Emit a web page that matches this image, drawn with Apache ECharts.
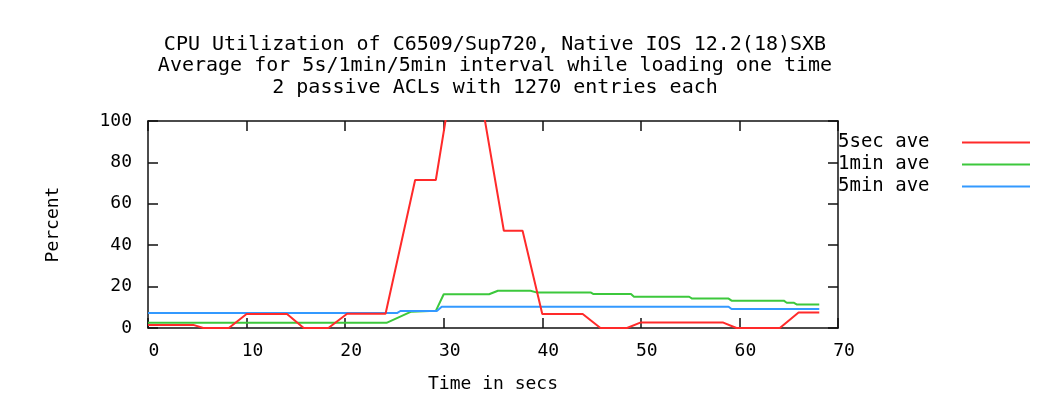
<!DOCTYPE html>
<html>
<head>
<meta charset="utf-8">
<script src="https://cdn.jsdelivr.net/npm/echarts@6/dist/echarts.min.js"></script>
<style>html,body{margin:0;padding:0;background:#fff;}#chart{width:1051px;height:414px;}</style>
</head>
<body>
<div id="chart"></div>
<script>
var titleLines = [
  'CPU Utilization of C6509/Sup720, Native IOS 12.2(18)SXB',
  'Average for 5s/1min/5min interval while loading one time',
  '2 passive ACLs with 1270 entries each'
];
var seriesNames = ['5sec ave', '1min ave', '5min ave'];
var xTicks = [0, 10, 20, 30, 40, 50, 60, 70];
var yTicks = [0, 20, 40, 60, 80, 100];

var sec5Time = [0, 4.6, 5.6, 8.2, 10, 14.1, 15.8, 18.3, 20.2, 24.1, 27.1, 29.2, 31, 33, 36.1, 38, 40, 44.1, 45.9, 48.6, 50, 58.3, 59.7, 64.1, 66, 68.1];
var sec5Pct  = [1.5, 1.5, 0, 0, 6.8, 6.8, 0, 0, 6.9, 6.9, 71.5, 71.5, 124, 133, 47, 47, 6.8, 6.8, 0, 0, 2.7, 2.7, 0, 0, 7.5, 7.5];

var min1Time = [0, 24.2, 26.7, 29.2, 30, 34.6, 35.5, 38.8, 39.4, 44.9, 45.2, 49.0, 49.3, 54.9, 55.2, 58.9, 59.2, 64.5, 64.8, 65.5, 65.8, 68.1];
var min1Pct  = [2.5, 2.5, 7.9, 8.3, 16.3, 16.3, 18.0, 18.0, 17.2, 17.2, 16.4, 16.4, 15.1, 15.1, 14.2, 14.2, 13.2, 13.2, 12.2, 12.2, 11.4, 11.4];

var min5Time = [0, 25.3, 25.6, 29.3, 29.8, 58.9, 59.2, 68.1];
var min5Pct  = [7.3, 7.3, 8.2, 8.2, 10.3, 10.3, 9.2, 9.2];

function zip(t, v) { return t.map(function (x, i) { return [x, v[i]]; }); }

var FONT = '"DejaVu Sans Mono", "Liberation Mono", monospace';
var colors = ['#ff2a2a', '#3cc83c', '#3399ff'];

var chart = echarts.init(document.getElementById('chart'), null, {renderer: 'canvas'});

var axisLineStyle = {color: '#111', width: 1.5};
var tickStyle = {show: true, inside: true, length: 10, lineStyle: {color: '#111', width: 1.5}};

chart.setOption({
  animation: false,
  backgroundColor: '#fff',
  title: {
    text: titleLines.join('\n'),
    left: 490,
    top: 29,
    textAlign: 'center',
    textStyle: {fontFamily: FONT, fontSize: 20, fontWeight: 'normal', color: '#000', lineHeight: 21.5}
  },
  legend: {
    orient: 'vertical',
    left: 833,
    top: 128,
    align: 'right',
    itemGap: 3,
    icon: 'rect',
    itemWidth: 68,
    itemHeight: 2,
    data: seriesNames,
    formatter: '{a|{name}}',
    textStyle: {
      fontFamily: FONT, fontSize: 19, color: '#000', lineHeight: 18.5,
      rich: {a: {fontFamily: FONT, fontSize: 19, color: '#000', width: 119, align: 'left', lineHeight: 18.5}}
    }
  },
  grid: {left: 148, right: 213, top: 121, bottom: 86, containLabel: false},
  xAxis: [{
    type: 'value', min: xTicks[0], max: xTicks[xTicks.length - 1], interval: 10,
    position: 'bottom',
    name: 'Time in secs', nameLocation: 'middle', nameGap: 47,
    nameTextStyle: {fontFamily: FONT, fontSize: 18, color: '#000'},
    axisLine: {show: true, onZero: false, lineStyle: axisLineStyle},
    axisTick: tickStyle,
    splitLine: {show: false},
    axisLabel: {fontFamily: FONT, fontSize: 18, color: '#000', margin: 14, padding: [0, 0, 0, 12]}
  }, {
    type: 'value', min: xTicks[0], max: xTicks[xTicks.length - 1], interval: 10,
    position: 'top',
    axisLine: {show: true, onZero: false, lineStyle: axisLineStyle},
    axisTick: tickStyle,
    splitLine: {show: false},
    axisLabel: {show: false}
  }],
  yAxis: [{
    type: 'value', min: yTicks[0], max: yTicks[yTicks.length - 1], interval: 20,
    position: 'left',
    name: 'Percent', nameLocation: 'middle', nameGap: 86, nameRotate: 90,
    nameTextStyle: {fontFamily: FONT, fontSize: 18, color: '#000'},
    axisLine: {show: true, onZero: false, lineStyle: axisLineStyle},
    axisTick: tickStyle,
    splitLine: {show: false},
    axisLabel: {fontFamily: FONT, fontSize: 18, color: '#000', margin: 16}
  }, {
    type: 'value', min: yTicks[0], max: yTicks[yTicks.length - 1], interval: 20,
    position: 'right',
    axisLine: {show: true, onZero: false, lineStyle: axisLineStyle},
    axisTick: tickStyle,
    splitLine: {show: false},
    axisLabel: {show: false}
  }],
  series: [
    {name: seriesNames[0], type: 'line', data: zip(sec5Time, sec5Pct), showSymbol: false, clip: true,
     lineStyle: {color: colors[0], width: 2}, itemStyle: {color: colors[0]}, z: 3},
    {name: seriesNames[1], type: 'line', data: zip(min1Time, min1Pct), showSymbol: false, clip: true,
     lineStyle: {color: colors[1], width: 2}, itemStyle: {color: colors[1]}, z: 2},
    {name: seriesNames[2], type: 'line', data: zip(min5Time, min5Pct), showSymbol: false, clip: true,
     lineStyle: {color: colors[2], width: 2}, itemStyle: {color: colors[2]}, z: 2}
  ]
});
</script>
</body>
</html>
